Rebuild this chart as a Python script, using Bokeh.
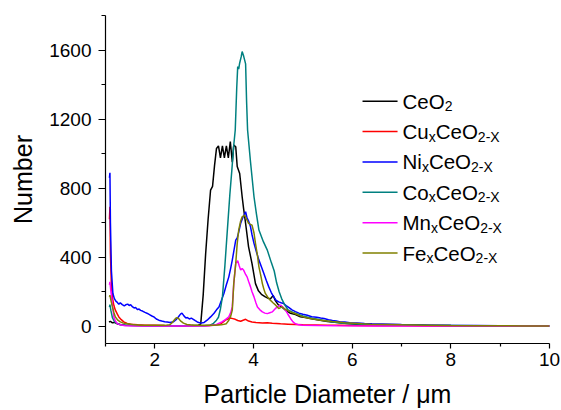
from bokeh.plotting import figure
from bokeh.models import FixedTicker, Range1d, Label
from bokeh.embed import file_html
from bokeh.resources import INLINE

# ---------------- data ----------------
ceo2 = [(1.07,25),(1.10,28),(1.14,20),(1.18,22),(1.23,15),(1.30,10),(1.40,6),(1.60,4),(1.90,3),
        (2.20,3),(2.50,3),(2.75,4),(2.88,6),(2.93,12),(2.98,180),(3.03,420),(3.08,620),(3.13,789),
        (3.17,810),(3.21,930),(3.25,1030),(3.29,1045),(3.33,975),(3.37,1045),(3.41,975),(3.45,1045),
        (3.49,975),(3.53,1070),(3.57,950),(3.60,1050),(3.64,1040),(3.67,925),(3.72,885),(3.77,750),
        (3.80,680),(3.84,595),(3.90,460),(3.97,363),(4.04,247),(4.10,205),(4.16,185),(4.24,170),
        (4.30,162),(4.34,158),(4.40,178),(4.44,150),(4.50,125),(4.58,110),(4.66,90),(4.75,75),
        (4.85,68),(4.95,55),(5.05,50),(5.20,42),(5.35,35),(5.50,28),(5.70,22),(5.90,16),(6.10,12),
        (6.40,9),(6.80,7),(7.20,5),(7.60,4),(8.00,3),(8.50,3),(9.00,2),(9.50,2),(10.0,1)]

cu = [(1.08,620),(1.09,692),(1.10,420),(1.12,230),(1.14,165),(1.17,120),(1.20,93),(1.24,70),
      (1.27,54),(1.32,38),(1.37,25),(1.44,16),(1.51,12),(1.65,8),(1.80,6),(2.00,5),(2.20,4),
      (2.60,3),(3.00,3),(3.20,5),(3.33,12),(3.40,28),(3.43,35),(3.48,42),(3.53,48),(3.58,44),
      (3.63,40),(3.68,33),(3.74,29),(3.79,35),(3.84,40),(3.90,30),(3.97,25),(4.05,22),(4.18,19),
      (4.28,20),(4.38,17),(4.55,14),(4.70,12),(4.85,10),(5.00,8),(5.25,7),(5.50,6),(5.75,5),
      (6.00,4),(6.50,3),(7.00,3),(7.50,2),(8.00,2),(9.00,2),(10.0,1)]

ni = [(1.08,860),(1.09,889),(1.10,600),(1.12,320),(1.15,190),(1.18,160),(1.21,145),(1.24,138),
      (1.27,128),(1.30,135),(1.34,125),(1.38,118),(1.41,124),(1.45,128),(1.48,120),(1.51,125),
      (1.55,112),(1.58,106),(1.61,108),(1.65,96),(1.68,100),(1.71,92),(1.75,88),(1.80,80),
      (1.85,74),(1.90,66),(1.95,58),(1.98,54),(2.03,42),(2.08,35),(2.14,30),(2.20,26),(2.25,25),
      (2.31,22),(2.38,26),(2.43,38),(2.48,55),(2.52,70),(2.55,76),(2.59,60),(2.63,48),(2.66,50),
      (2.70,42),(2.74,47),(2.78,40),(2.82,32),(2.86,25),(2.93,18),(3.00,22),(3.06,35),(3.13,54),
      (3.20,75),(3.25,95),(3.30,112),(3.35,150),(3.40,190),(3.45,240),(3.50,286),(3.54,340),
      (3.57,383),(3.61,450),(3.64,499),(3.67,512),(3.70,545),(3.74,596),(3.79,634),(3.82,650),
      (3.84,663),(3.87,626),(3.90,610),(3.94,576),(3.97,530),(4.01,480),(4.06,430),(4.11,383),
      (4.16,345),(4.21,306),(4.26,265),(4.31,228),(4.36,195),(4.41,170),(4.46,150),(4.51,141),
      (4.56,136),(4.61,132),(4.66,120),(4.72,108),(4.78,95),(4.85,85),(4.92,76),(5.00,70),
      (5.09,64),(5.18,55),(5.28,52),(5.36,48),(5.43,45),(5.52,38),(5.60,33),(5.68,30),(5.76,25),
      (5.85,24),(5.95,20),(6.10,19),(6.25,16),(6.40,14),(6.60,13),(6.80,12),(7.00,10),(7.30,8),
      (7.60,6),(8.00,5),(8.50,4),(9.00,3),(9.50,3),(10.0,2)]

co = [(1.08,110),(1.09,125),(1.11,90),(1.14,50),(1.18,28),(1.22,18),(1.30,9),(1.45,5),(1.80,3),
      (2.40,3),(3.00,3),(3.12,6),(3.19,17),(3.25,35),(3.29,52),(3.33,100),(3.37,170),(3.42,350),
      (3.47,557),(3.52,760),(3.56,900),(3.60,1050),(3.63,1137),(3.66,1380),(3.68,1504),(3.70,1490),
      (3.72,1525),(3.75,1560),(3.77,1591),(3.80,1565),(3.84,1520),(3.86,1300),(3.88,1137),
      (3.94,950),(4.01,750),(4.06,650),(4.11,557),(4.20,490),(4.28,441),(4.36,370),(4.42,320),
      (4.47,250),(4.52,200),(4.57,160),(4.63,125),(4.70,95),(4.80,80),(4.90,70),(5.00,60),
      (5.10,52),(5.20,45),(5.30,40),(5.40,35),(5.50,30),(5.60,25),(5.70,21),(5.80,18),(6.00,14),
      (6.30,10),(6.70,7),(7.00,8),(7.50,5),(8.00,4),(8.50,3),(9.00,3),(9.50,2),(10.0,2)]

mn = [(1.08,240),(1.09,257),(1.11,200),(1.13,151),(1.15,100),(1.17,54),(1.20,30),(1.24,15),
      (1.30,8),(1.40,3),(1.70,2),(2.20,2),(2.70,2),(3.10,3),(3.25,10),(3.36,25),(3.43,38),
      (3.50,54),(3.54,80),(3.57,112),(3.60,247),(3.64,364),(3.68,379),(3.71,350),(3.74,325),
      (3.77,335),(3.80,325),(3.84,300),(3.87,286),(3.90,260),(3.94,228),(3.97,200),(4.01,170),
      (4.05,135),(4.08,112),(4.13,95),(4.18,83),(4.23,76),(4.28,73),(4.33,78),(4.38,83),
      (4.43,98),(4.48,112),(4.52,118),(4.55,122),(4.60,110),(4.65,93),(4.70,68),(4.75,45),
      (4.80,25),(4.85,14),(4.92,8),(5.00,6),(5.30,4),(5.70,3),(6.50,2),(7.50,2),(8.50,1),(10.0,1)]

fe = [(1.08,170),(1.09,180),(1.11,150),(1.14,112),(1.17,80),(1.20,54),(1.25,35),(1.30,25),
      (1.36,18),(1.44,15),(1.55,10),(1.70,6),(2.00,5),(2.20,5),(2.30,8),(2.35,20),(2.39,35),
      (2.42,45),(2.45,50),(2.49,42),(2.52,31),(2.58,18),(2.65,10),(2.80,6),(3.00,5),(3.20,6),
      (3.35,8),(3.45,15),(3.50,35),(3.54,60),(3.57,93),(3.60,247),(3.64,364),(3.67,480),
      (3.70,557),(3.74,610),(3.77,634),(3.80,640),(3.82,644),(3.86,620),(3.90,596),(3.94,590),
      (3.97,586),(4.01,540),(4.04,480),(4.08,410),(4.11,344),(4.15,290),(4.18,247),(4.21,215),
      (4.24,190),(4.29,168),(4.34,151),(4.40,135),(4.45,122),(4.51,103),(4.55,108),(4.58,112),
      (4.63,100),(4.68,93),(4.75,83),(4.85,72),(4.95,60),(5.02,54),(5.15,45),(5.25,40),
      (5.36,35),(5.50,30),(5.60,27),(5.70,25),(5.85,20),(6.03,17),(6.20,14),(6.37,12),
      (6.70,10),(7.00,8),(7.50,6),(8.00,4),(8.50,3),(9.00,3),(9.50,2),(10.0,2)]

x_ticks = [2, 4, 6, 8, 10]
x_minor = [1, 3, 5, 7, 9]
y_ticks = [0, 400, 800, 1200, 1600]
y_minor = [200, 600, 1000, 1400, 1800]

# legend: (main, sub, main, sub) pieces
series = [
    (ceo2, "#000000", [("CeO", False), ("2", True)]),
    (cu,   "#ff0000", [("Cu", False), ("x", True), ("CeO", False), ("2-X", True)]),
    (ni,   "#0000ff", [("Ni", False), ("x", True), ("CeO", False), ("2-X", True)]),
    (co,   "#008080", [("Co", False), ("x", True), ("CeO", False), ("2-X", True)]),
    (mn,   "#ff00ff", [("Mn", False), ("x", True), ("CeO", False), ("2-X", True)]),
    (fe,   "#808000", [("Fe", False), ("x", True), ("CeO", False), ("2-X", True)]),
]

FONT = "Liberation Sans"

p = figure(width=561, height=410, output_backend="svg", toolbar_location=None,
           x_range=Range1d(1, 10), y_range=Range1d(-100, 1800),
           min_border_left=105, min_border_right=12, min_border_top=15, min_border_bottom=67)
p.outline_line_color = None
p.grid.visible = False
p.background_fill_color = "white"
p.border_fill_color = "white"

for data, color, _ in series:
    xs = [d[0] for d in data]
    ys = [d[1] for d in data]
    p.line(xs, ys, line_color=color, line_width=1.5)

xa = p.xaxis[0]
xa.ticker = FixedTicker(ticks=x_ticks, minor_ticks=x_minor)
xa.axis_label = "Particle Diameter / \u03bcm"
xa.major_tick_out = 5
xa.major_tick_in = 0
xa.minor_tick_out = 3
xa.minor_tick_in = 0
xa.major_label_standoff = 4
xa.axis_label_standoff = 11

ya = p.yaxis[0]
ya.ticker = FixedTicker(ticks=y_ticks, minor_ticks=y_minor)
ya.axis_label = "Number"
ya.major_tick_out = 7
ya.major_tick_in = 0
ya.minor_tick_out = 4
ya.minor_tick_in = 0
ya.major_label_standoff = 7
ya.axis_label_standoff = 9

for ax in (xa, ya):
    ax.axis_line_color = "black"
    ax.axis_line_width = 1.2
    ax.major_tick_line_color = "black"
    ax.minor_tick_line_color = "black"
    ax.major_tick_line_width = 1.2
    ax.minor_tick_line_width = 1.2
    ax.major_label_text_font = FONT
    ax.major_label_text_font_size = "19px"
    ax.major_label_text_color = "black"
    ax.axis_label_text_font = FONT
    ax.axis_label_text_font_size = "25px"
    ax.axis_label_text_font_style = "normal"
    ax.axis_label_text_color = "black"

# ---------------- legend (drawn by hand for subscripts) ----------------
LEG_X = 6.21      # data x of swatch start
LEG_LEN = 0.71    # swatch length (data x)
LEG_Y0 = 1304     # data y of first row
LEG_DY = 176      # row spacing (data y)
MAIN_SIZE = 20.5
SUB_SIZE = 14
# Arial / Liberation Sans advance widths (em)
W = {"C": 0.722, "e": 0.556, "O": 0.778, "u": 0.556, "N": 0.722, "i": 0.222,
     "o": 0.556, "M": 0.833, "n": 0.556, "F": 0.611, "x": 0.5, "2": 0.556,
     "-": 0.333, "X": 0.667}

for i, (_, color, pieces) in enumerate(series):
    yrow = LEG_Y0 - i * LEG_DY
    p.segment(x0=[LEG_X], y0=[yrow], x1=[LEG_X + LEG_LEN], y1=[yrow],
              line_color=color, line_width=1.5)
    dx = 40.0
    for txt, sub in pieces:
        size = SUB_SIZE if sub else MAIN_SIZE
        p.add_layout(Label(x=LEG_X, y=yrow, x_offset=dx, y_offset=(-5 if sub else 0),
                           text=txt, text_font=FONT, text_font_size=f"{size}px",
                           text_baseline="alphabetic", text_align="left", text_color="black"))
        dx += sum(W[c] for c in txt) * size

open("out.html", "w").write(file_html(p, INLINE))
